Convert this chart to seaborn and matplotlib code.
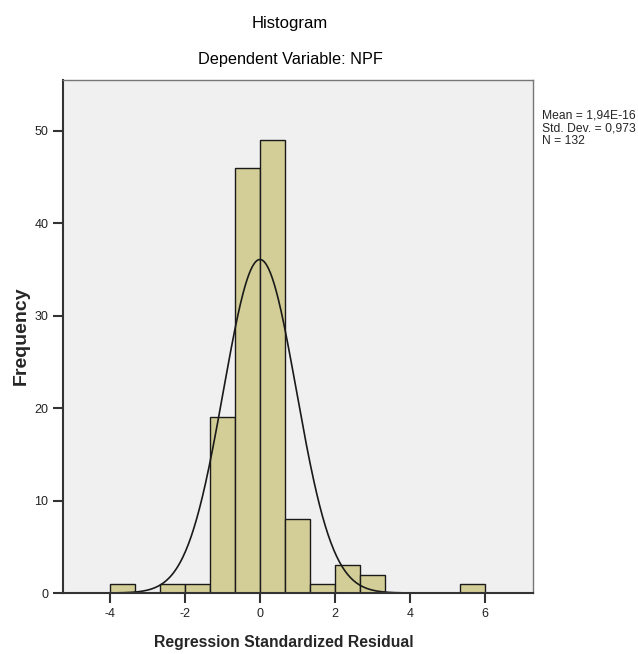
import numpy as np
import pandas as pd
import matplotlib
matplotlib.use("Agg")
import matplotlib.pyplot as plt
import seaborn as sns

sns.set_style("white")
plt.rcParams["font.family"] = ["Liberation Sans", "DejaVu Sans"]

# data
bin_edges = [-4, -10/3, -8/3, -2, -4/3, -2/3, 0, 2/3, 4/3, 2, 8/3, 10/3, 4, 14/3, 16/3, 6]
counts = [1, 0, 1, 1, 19, 46, 49, 8, 1, 3, 2, 0, 0, 0, 1]
mean_val = 1.94e-16
std_val = 0.973
n_obs = 132
x_ticks = [-4, -2, 0, 2, 4, 6]
y_ticks = [0, 10, 20, 30, 40, 50]

edges = np.array(bin_edges)
centers = (edges[:-1] + edges[1:]) / 2
df = pd.DataFrame({"resid": centers, "n": counts})

fig = plt.figure(figsize=(6.38, 6.54), dpi=100)
ax = fig.add_axes([63/638, 1 - 593/654, (533 - 63)/638, (593 - 80)/654])
ax.set_facecolor("#f0f0f0")

sns.histplot(data=df, x="resid", weights="n", bins=list(bin_edges), ax=ax,
             color="#d3ce97", alpha=1, edgecolor="#1a1a1a", linewidth=1)

# normal curve scaled to counts
bw = edges[1] - edges[0]
xs = np.linspace(-5.25, 7.3, 500)
ys = n_obs * bw * np.exp(-0.5 * ((xs - mean_val) / std_val) ** 2) / (std_val * np.sqrt(2 * np.pi))
ax.plot(xs, ys, color="#1a1a1a", linewidth=1.2)

ax.set_xlim(-5.25, 7.28)
ax.set_ylim(0, 55.5)
ax.set_xticks(x_ticks)
ax.set_xticklabels([str(t) for t in x_ticks])
ax.set_yticks(y_ticks)
ax.tick_params(axis="both", direction="out", length=7, width=1.5, color="#333333",
               labelsize=9, labelcolor="#222222", left=True, bottom=True)
for side in ["left", "bottom"]:
    ax.spines[side].set_color("#333333")
    ax.spines[side].set_linewidth(1.5)
for side in ["top", "right"]:
    ax.spines[side].set_color("#777777")
    ax.spines[side].set_linewidth(1)

ax.set_xlabel("Regression Standardized Residual", fontsize=11.3, fontweight="bold")
ax.set_ylabel("Frequency", fontsize=14, fontweight="bold")
ax.xaxis.label.set_verticalalignment("center")
ax.yaxis.label.set_verticalalignment("center")
ax.xaxis.set_label_coords((284 - 63) / (533 - 63), -(643 - 593) / (593 - 80))
ax.yaxis.set_label_coords(-(63 - 21) / (533 - 63), (593 - 336) / (593 - 80))

fig.text(290/638, 1 - 28/654, "Histogram", ha="center", va="baseline", fontsize=12, color="black")
fig.text(290/638, 1 - 64/654, "Dependent Variable: NPF", ha="center", va="baseline",
         fontsize=11.7, color="black")
fig.text(542/638, 1 - 110/654,
         "Mean = 1,94E-16\nStd. Dev. = 0,973\nN = 132",
         ha="left", va="top", fontsize=8.7, linespacing=1.05)

fig.savefig("out.png", dpi=100)
